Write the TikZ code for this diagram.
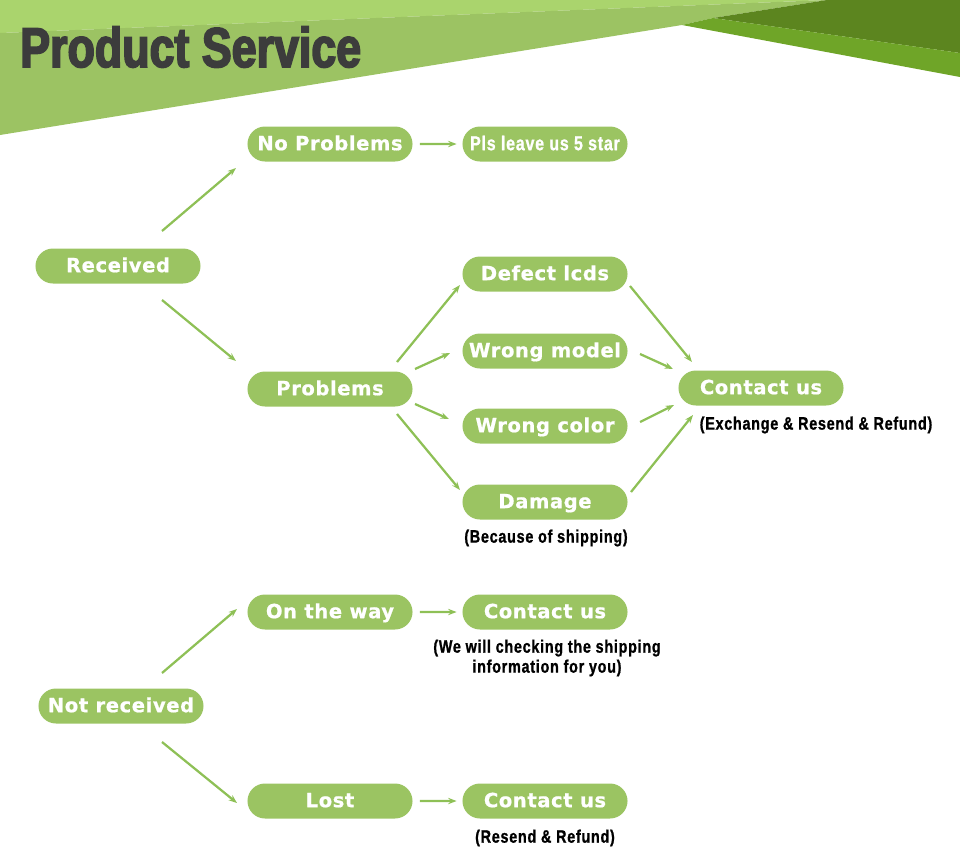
\documentclass[tikz,border=0pt]{standalone}
\usepackage{fontspec}
\setmainfont{Liberation Sans}
\newfontfamily\pillfont{DejaVu Sans}[LetterSpace=3,FakeBold=0.8]
\newfontfamily\narrowfont{Liberation Sans}[FakeStretch=0.8,LetterSpace=4,FakeBold=1]
\newfontfamily\headfont{Liberation Sans}[FakeStretch=0.8,FakeBold=3]
\usepackage{xcolor}
\usepackage{tikz}
\usetikzlibrary{arrows.meta,positioning,shapes.misc}

\definecolor{leafgreen}{HTML}{9BC462}
\definecolor{arrowgreen}{HTML}{8EC056}
\definecolor{bandlight}{HTML}{AAD46D}
\definecolor{bandmid}{HTML}{9CC363}
\definecolor{banddark}{HTML}{5C851F}
\definecolor{bandbright}{HTML}{6FA528}
\definecolor{inkgray}{HTML}{3C3C3C}

\begin{document}
\begin{tikzpicture}[x=0.025cm,y=-0.025cm,
  pill/.style={rounded rectangle,fill=leafgreen,text=white,minimum width=4.125cm,minimum height=0.875cm,inner sep=0pt,text height=0.88em,text depth=0pt,font=\pillfont\bfseries\fontsize{13.9}{16}\selectfont},
  slim/.style={pill,text height=0.88em,font=\narrowfont\bfseries\fontsize{14.2}{16}\selectfont},
  note/.style={font=\narrowfont\bfseries\fontsize{12.8}{14.2}\selectfont,align=center,inner sep=0pt},
  arr/.style={-{Stealth[length=6pt,width=4.5pt]},line width=1.6pt,arrowgreen},
  flat/.style={arr,shorten <=5pt,shorten >=4pt}]
\useasboundingbox (0,0) rectangle (960,863);
% header band
\fill[bandlight] (0,0) -- (827,0) -- (0,33) -- cycle;
\fill[bandmid] (0,33) -- (827,0) -- (713,18) -- (682,25) -- (0,135) -- cycle;
\fill[banddark] (713,18) -- (827,0) -- (960,0) -- (960,53) -- cycle;
\fill[bandbright] (682,25) -- (713,18) -- (960,53) -- (960,77) -- cycle;
\node[anchor=base west,inner sep=0pt,text=inkgray,font=\headfont\bfseries\fontsize{39.8}{44}\selectfont] (title) at (20,67) {Product Service};
% received branch
\node[pill] (rec)  at (118,266) {Received};
\node[pill] (nop)  at (330,144) {No Problems};
\node[slim] (star) at (545,144) {Pls leave us 5 star};
\node[pill] (prob) at (330,389) {Problems};
\node[pill] (def)  at (545,274) {Defect lcds};
\node[pill] (wmod) at (545,351) {Wrong model};
\node[pill] (wcol) at (545,426) {Wrong color};
\node[pill] (dam)  at (545,502) {Damage};
\node[note] (damnote) at (546,538) {(Because of shipping)};
\node[pill] (cu1)  at (761,388) {Contact us};
\node[note] (cu1note) at (816,425) {(Exchange \& Resend \& Refund)};
% not received branch
\node[pill] (nrec) at (121,706) {Not received};
\node[pill] (otw)  at (330,612) {On the way};
\node[pill] (cu2)  at (545,612) {Contact us};
\node[note] (cu2note) at (547,658) {(We will checking the shipping\\information for you)};
\node[pill] (lost) at (330,801) {Lost};
\node[pill] (cu3)  at (545,801) {Contact us};
\node[note] (cu3note) at (545,838) {(Resend \& Refund)};
% connectors
\draw[arr] ([shift={(44,-35)}]rec.center) -- ([shift={(-94,24)}]nop.center);
\draw[arr] ([shift={(44,34)}]rec.center) -- ([shift={(-94,-28)}]prob.center);
\draw[flat] (nop) -- (star);
\draw[arr] ([shift={(67,-27)}]prob.center) -- ([shift={(-85,11)}]def.center);
\draw[arr] ([shift={(85,-20)}]prob.center) -- ([shift={(-95,2)}]wmod.center);
\draw[arr] ([shift={(85,15)}]prob.center) -- ([shift={(-96,-7)}]wcol.center);
\draw[arr] ([shift={(67,25)}]prob.center) -- ([shift={(-85,-12)}]dam.center);
\draw[arr] ([shift={(85,12)}]def.center) -- ([shift={(-69,-26)}]cu1.center);
\draw[arr] ([shift={(95,3)}]wmod.center) -- ([shift={(-88,-19)}]cu1.center);
\draw[arr] ([shift={(95,-4)}]wcol.center) -- ([shift={(-87,17)}]cu1.center);
\draw[arr] ([shift={(86,-10)}]dam.center) -- ([shift={(-68,27)}]cu1.center);
\draw[arr] ([shift={(41,-33)}]nrec.center) -- ([shift={(-93,-3)}]otw.center);
\draw[arr] ([shift={(41,36)}]nrec.center) -- ([shift={(-93,2)}]lost.center);
\draw[flat] (otw) -- (cu2);
\draw[flat] (lost) -- (cu3);
\end{tikzpicture}
\end{document}
